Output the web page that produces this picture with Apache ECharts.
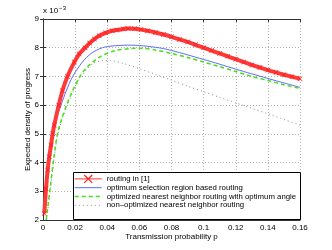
<!DOCTYPE html>
<html><head><meta charset="utf-8">
<script src="https://cdn.jsdelivr.net/npm/echarts@6/dist/echarts.min.js"></script>
<style>html,body{margin:0;padding:0;background:#fff}#c{width:332px;height:250px}</style>
</head><body><div id="c"></div>
<script>
var seriesNames = ['routing in [1]','optimum selection region based routing','optimized nearest neighbor routing with optimum angle','non\u2013optimized nearest neighbor routing'];
var xTicks = [0,0.02,0.04,0.06,0.08,0.1,0.12,0.14,0.16];
var yTicks = [2,3,4,5,6,7,8,9];

var redP = [0.0008,0.0019,0.0029,0.0039,0.005,0.006,0.007,0.0098,0.0121,0.0152,0.0195,0.0225,0.0262,0.029,0.032,0.035,0.039,0.043,0.046,0.05,0.053,0.057,0.061,0.065,0.07,0.075,0.08,0.085,0.09,0.095,0.1,0.105,0.11,0.115,0.12,0.125,0.13,0.135,0.14,0.145,0.15,0.155,0.16];
var redV = [2.23,3.1,3.74,4.2,4.61,5.0,5.3,6.0,6.5,7.0,7.5,7.78,8.0,8.16,8.3,8.42,8.52,8.59,8.62,8.65,8.67,8.66,8.63,8.59,8.53,8.46,8.38,8.29,8.2,8.1,8.0,7.9,7.8,7.7,7.6,7.5,7.4,7.31,7.22,7.14,7.06,6.99,6.92];

var blueP = [0.0009,0.002,0.0036,0.005,0.0062,0.0082,0.0112,0.0145,0.0185,0.0245,0.03,0.037,0.045,0.055,0.065,0.075,0.085,0.095,0.105,0.115,0.125,0.135,0.145,0.16];
var blueV = [2.2,3.0,4.0,4.6,5.0,5.5,6.0,6.5,7.0,7.5,7.8,8.0,8.07,8.09,8.05,7.97,7.83,7.67,7.51,7.34,7.17,7.01,6.85,6.62];

var greenP = [0.002,0.0042,0.0064,0.009,0.0118,0.0147,0.018,0.023,0.027,0.031,0.036,0.045,0.055,0.062,0.07,0.08,0.09,0.1,0.11,0.12,0.13,0.14,0.15,0.16];
var greenV = [2.0,3.0,4.0,5.0,5.55,6.0,6.45,7.0,7.3,7.5,7.7,7.9,7.97,7.98,7.92,7.8,7.66,7.5,7.34,7.17,7.0,6.86,6.71,6.58];

var grayP = [0.0022,0.0044,0.0066,0.0092,0.012,0.015,0.0183,0.0233,0.0273,0.031,0.036,0.042,0.05,0.06,0.07,0.08,0.09,0.1,0.11,0.12,0.13,0.14,0.15,0.16];
var grayV = [2.0,3.0,4.0,4.98,5.52,5.97,6.42,6.96,7.25,7.45,7.54,7.55,7.45,7.27,7.07,6.87,6.66,6.47,6.27,6.08,5.89,5.7,5.5,5.31];

function pairs(p, v){ return p.map(function(x,i){ return [x, v[i]]; }); }

var chart = echarts.init(document.getElementById('c'), null, {renderer:'canvas'});
var font = 'Liberation Sans, Arial, Helvetica, sans-serif';
var gridStyle = {show:true, lineStyle:{color:'#b0b0b0', type:[1,2], width:1}};
var xSide = {type:'value', min:0, max:0.16, interval:0.02};
var ySide = {type:'value', min:2, max:9, interval:1};
var crossPath = 'path://M0,1L1,0L5,4L9,0L10,1L6,5L10,9L9,10L5,6L1,10L0,9L4,5Z';
var hideSym = {opacity:0, color:'transparent', borderWidth:0};

chart.setOption({
  animation:false,
  backgroundColor:'#fff',
  textStyle:{fontFamily:font},
  title:{text:'x 10{s|\u22123}', left:43, top:5, padding:0,
    textStyle:{fontSize:8, fontWeight:'normal', color:'#000', fontFamily:font,
      rich:{s:{fontSize:6, verticalAlign:'top', padding:[0,0,6,1], color:'#000', fontFamily:font}}}},
  grid:{left:43, right:32, top:19, bottom:30, containLabel:false},
  xAxis:[
    Object.assign({}, xSide, {position:'bottom', name:'Transmission probability p', nameLocation:'middle', nameGap:13, nameMoveOverlap:false,
      nameTextStyle:{fontSize:8, color:'#000', fontFamily:font},
      axisLine:{lineStyle:{color:'#333', width:1}}, axisTick:{inside:true, length:3, lineStyle:{color:'#333'}},
      axisLabel:{fontSize:8, color:'#000', margin:4, fontFamily:font, formatter:function(v){ return xTicks.indexOf(+v.toFixed(2))>=0 ? String(+v.toFixed(2)) : ''; }},
      splitLine:gridStyle}),
    Object.assign({}, xSide, {position:'top', axisLine:{lineStyle:{color:'#333', width:1}}, axisTick:{inside:true, length:3, lineStyle:{color:'#333'}}, axisLabel:{show:false}, splitLine:{show:false}})
  ],
  yAxis:[
    Object.assign({}, ySide, {position:'left', name:'Expected density of progress', nameLocation:'middle', nameGap:11, nameRotate:90, nameMoveOverlap:false,
      nameTextStyle:{fontSize:8, color:'#000', fontFamily:font},
      axisLine:{show:true, lineStyle:{color:'#333', width:1}}, axisTick:{show:true, inside:true, length:3, lineStyle:{color:'#333'}},
      axisLabel:{fontSize:8, color:'#000', margin:4, fontFamily:font, formatter:function(v){ return yTicks.indexOf(v)>=0 ? String(v) : ''; }},
      splitLine:gridStyle}),
    Object.assign({}, ySide, {position:'right', axisLine:{show:true, lineStyle:{color:'#333', width:1}}, axisTick:{show:true, inside:true, length:3, lineStyle:{color:'#333'}}, axisLabel:{show:false}, splitLine:{show:false}})
  ],
  legend:{
    orient:'vertical', left:74, top:174.5, padding:0, itemGap:0, itemWidth:27, itemHeight:11, z:5,
    textStyle:{fontSize:7.8, color:'#000', fontFamily:font},
    data:[
      {name:seriesNames[0], lineStyle:{width:1, color:'#ff3030', opacity:1}, itemStyle:{color:'#ff2020'}},
      {name:seriesNames[1], lineStyle:{width:1}, itemStyle:hideSym},
      {name:seriesNames[2], lineStyle:{width:1.5}, itemStyle:hideSym},
      {name:seriesNames[3], lineStyle:{width:1}, itemStyle:hideSym}
    ]
  },
  graphic:[
    {type:'rect', z:3, shape:{x:73.5, y:172.5, width:227, height:47}, style:{fill:'#fff', stroke:'#000', lineWidth:1}}
  ],
  series:[
    {name:seriesNames[3], type:'line', data:pairs(grayP, grayV), showSymbol:false, symbol:'none', smooth:0.3, z:2,
      itemStyle:{color:'#8a8a8a'}, lineStyle:{color:'#8a8a8a', width:1, type:[1,3]}},
    {name:seriesNames[2], type:'line', data:pairs(greenP, greenV), showSymbol:false, symbol:'none', smooth:0.3, z:2,
      itemStyle:{color:'#44e010'}, lineStyle:{color:'#44e010', width:1.5, type:[4,3]}},
    {name:seriesNames[1], type:'line', data:pairs(blueP, blueV), showSymbol:false, symbol:'none', smooth:0.3, z:2,
      itemStyle:{color:'#5b6cf8'}, lineStyle:{color:'#5b6cf8', width:1}},
    {name:seriesNames[0], type:'line', data:pairs(redP, redV), symbol:crossPath, symbolSize:5, showSymbol:true, smooth:0.3, z:3,
      itemStyle:{color:'#ff2020'}, lineStyle:{color:'#ff3a3a', width:4}}
  ]
});
</script>
</body></html>
